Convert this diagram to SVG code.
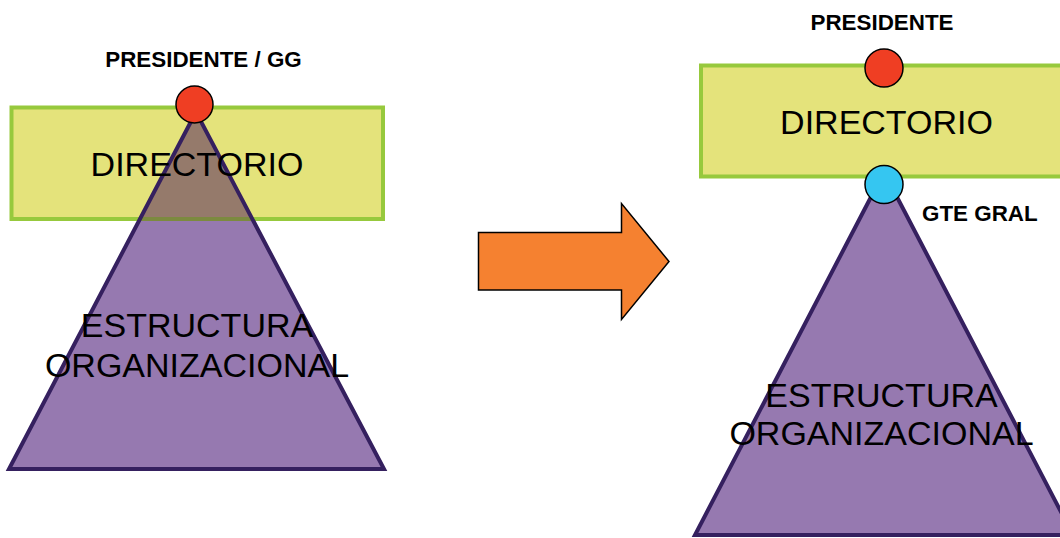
<svg xmlns="http://www.w3.org/2000/svg" width="1060" height="538" viewBox="0 0 1060 538">
<style>
.box{fill:#e4e37b;stroke:#97c93d;stroke-width:4}
.tri{fill:#9679b0;stroke:#35205f;stroke-width:4;stroke-linejoin:miter}
.edge{fill:none;stroke:#35205f;stroke-width:4}
.dot{stroke:#000;stroke-width:1.5}
.big{font-family:"Liberation Sans",Arial,sans-serif;font-size:34px;fill:#000;text-anchor:middle}
.lbl{font-family:"Liberation Sans",Arial,sans-serif;font-size:22.4px;font-weight:bold;fill:#000}
</style>
<defs>
<clipPath id="leftTriClip"><polygon points="196,112 9,469 384,469"/></clipPath>
</defs>
<rect width="1060" height="538" fill="#fff"/>

<g id="left-directorio">
<rect class="box" x="11.5" y="107.5" width="371.5" height="111.5"/>
</g>
<g id="left-estructura">
<polygon points="196,112 9,469 384,469" style="fill:#9679b0"/>
<g clip-path="url(#leftTriClip)">
<rect x="11.5" y="107.5" width="371.5" height="111.5" fill="#957a6b" stroke="#7c8a3f" stroke-width="4"/>
</g>
<polygon class="edge" points="196,112 9,469 384,469"/>
<text class="big" x="197" y="337">ESTRUCTURA</text>
<text class="big" x="197" y="377">ORGANIZACIONAL</text>
</g>
<g id="left-directorio-label">
<text class="big" x="197" y="176">DIRECTORIO</text>
</g>
<g id="left-presidente">
<circle class="dot" cx="194.5" cy="104.5" r="18.5" fill="#ef3e23"/>
<text class="lbl" x="203.5" y="67" text-anchor="middle">PRESIDENTE / GG</text>
</g>

<g id="connectors">
<polygon points="478.5,232.5 621.5,232.5 621.5,203.5 669,261.5 621.5,319.5 621.5,290 478.5,290" fill="#f58130" stroke="#000" stroke-width="1.5" stroke-linejoin="miter"/>
</g>

<g id="right-directorio">
<rect class="box" x="701" y="65.5" width="371.5" height="111"/>
<text class="big" x="886.5" y="133.5">DIRECTORIO</text>
</g>
<g id="right-estructura">
<polygon class="tri" points="884,172 695,535 1073,535"/>
<text class="big" x="881.5" y="407">ESTRUCTURA</text>
<text class="big" x="881.5" y="445">ORGANIZACIONAL</text>
</g>
<g id="right-presidente">
<circle class="dot" cx="884" cy="68" r="19" fill="#ef3e23"/>
<text class="lbl" x="882" y="30" text-anchor="middle">PRESIDENTE</text>
</g>
<g id="right-gte-gral">
<circle class="dot" cx="884" cy="184.5" r="19" fill="#35c6f1"/>
<text class="lbl" x="922" y="221">GTE GRAL</text>
</g>
</svg>
